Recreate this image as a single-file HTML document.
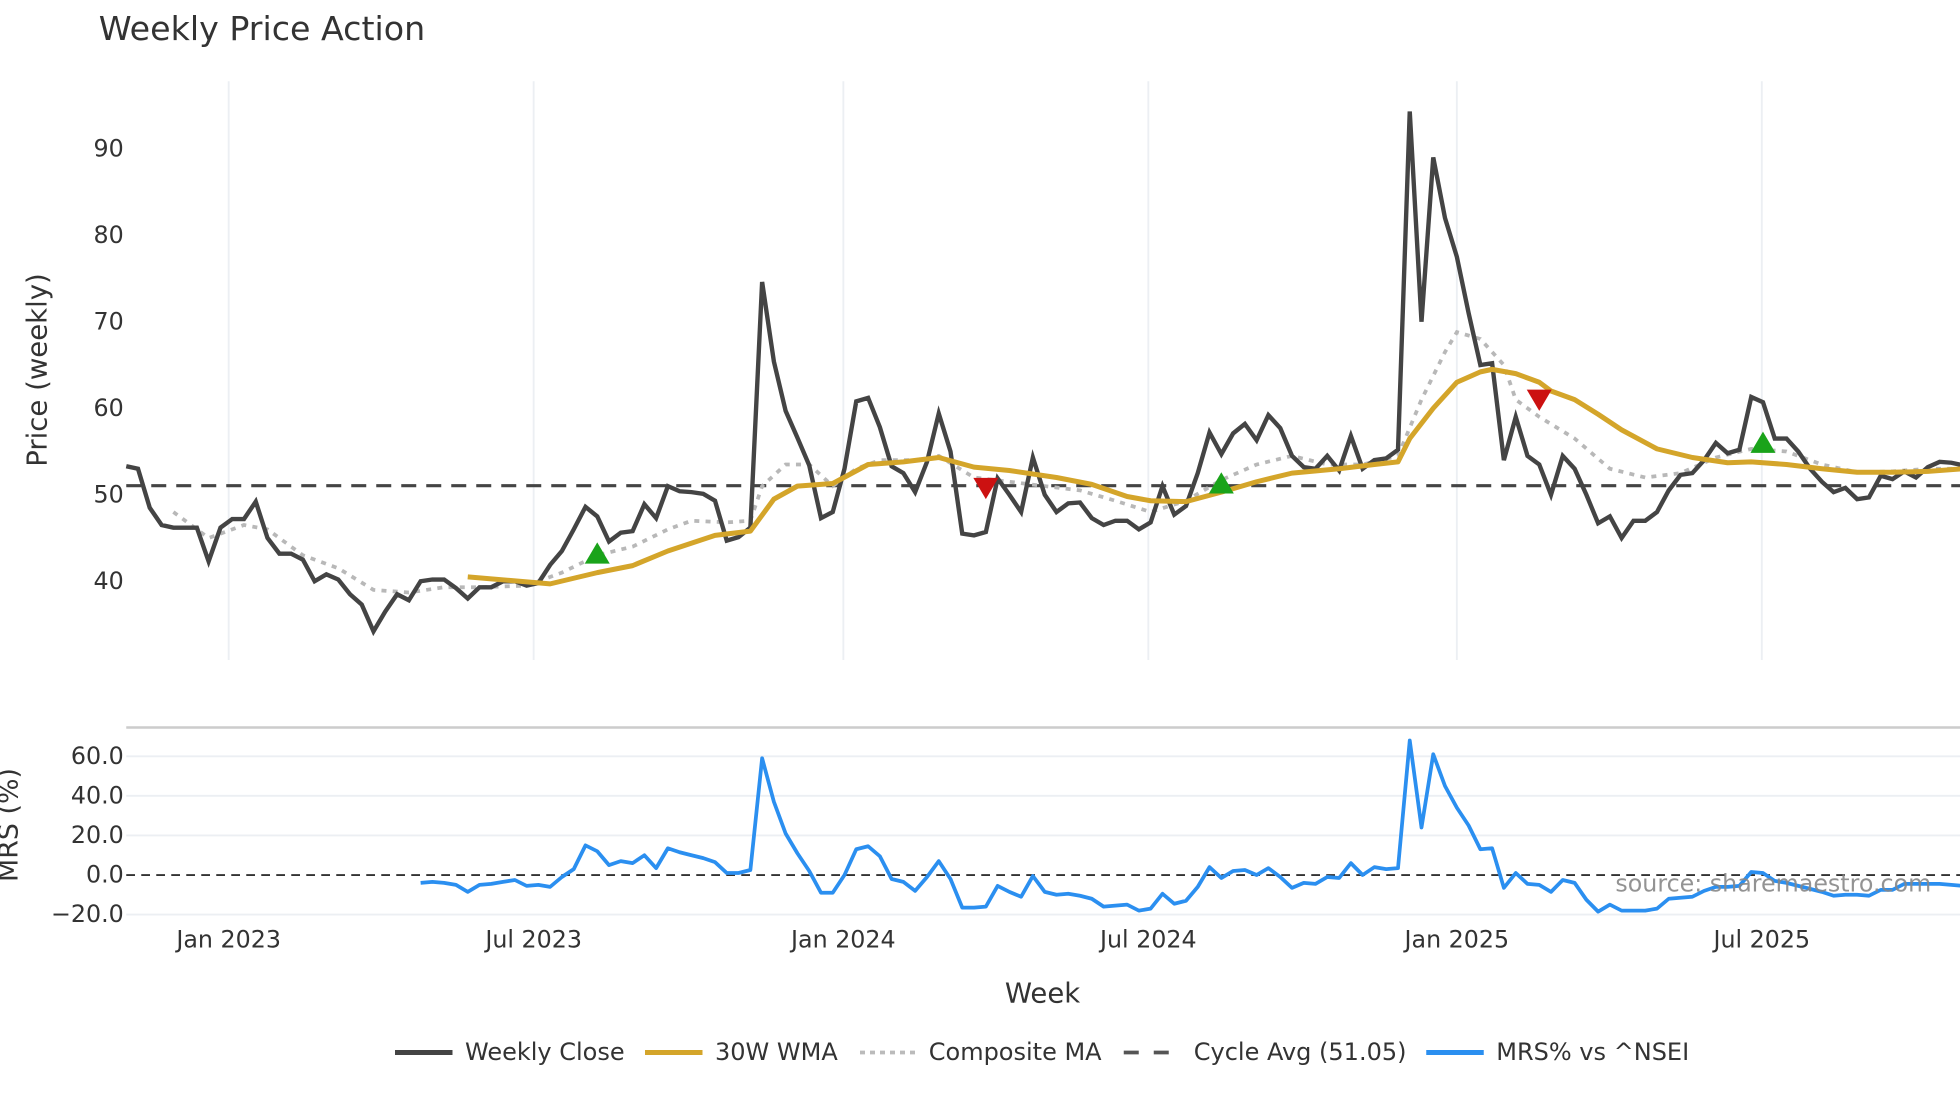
<!DOCTYPE html>
<html><head><meta charset="utf-8">
<style>
html,body{margin:0;padding:0;background:#fff;}
svg{display:block;font-family:"DejaVu Sans","Liberation Sans",sans-serif;}
</style></head>
<body>
<svg id="chart" width="1960" height="1102" viewBox="0 0 1568 881.6" xmlns="http://www.w3.org/2000/svg">
<rect x="0" y="0" width="1568" height="882" fill="#fff"/>
<text x="79" y="32" font-size="26.6" fill="#333">Weekly Price Action</text>
<g id="grid"></g>
<g id="price"></g>
<g id="mrs"></g>
<g id="axes"></g>
<text x="37" y="296" font-size="22" fill="#333" text-anchor="middle" transform="rotate(-90 37 296)">Price (weekly)</text>
<text x="14" y="660" font-size="21.5" fill="#333" text-anchor="middle" transform="rotate(-90 14 660)">MRS (%)</text>
<text x="834" y="802" font-size="22" fill="#333" text-anchor="middle">Week</text>
<text x="1545" y="713" font-size="19" fill="#888" text-anchor="end" opacity="0.9">source: sharemaestro.com</text>
<g font-size="19.2" fill="#333">
  <g><line x1="316" y1="842" x2="362" y2="842" stroke="#444" stroke-width="4"/><text x="372" y="848">Weekly Close</text></g>
  <g><line x1="516" y1="842" x2="562" y2="842" stroke="#d4a52a" stroke-width="4"/><text x="572" y="848">30W WMA</text></g>
  <g><line x1="688" y1="842" x2="734" y2="842" stroke="#bbb" stroke-width="3" stroke-dasharray="4,4"/><text x="743" y="848">Composite MA</text></g>
  <g><line x1="899" y1="842" x2="945" y2="842" stroke="#555" stroke-width="3" stroke-dasharray="12,12"/><text x="955" y="848">Cycle Avg (51.05)</text></g>
  <g><line x1="1141" y1="842" x2="1187" y2="842" stroke="#2b8ff0" stroke-width="4"/><text x="1197" y="848">MRS% vs ^NSEI</text></g>
</g>
</svg>
<script>
const closeVals=[53.3,53,48.5,46.5,46.2,46.2,46.2,42.3,46.2,47.2,47.2,49.2,45,43.2,43.2,42.5,40,40.8,40.2,38.5,37.3,34.2,36.5,38.5,37.8,40,40.2,40.2,39.2,38,39.3,39.3,40,40,39.5,39.8,41.9,43.5,46,48.6,47.5,44.6,45.6,45.8,48.9,47.3,51,50.4,50.3,50.1,49.3,44.7,45.1,46.2,74.6,65.4,59.7,56.6,53.4,47.3,48,53,60.8,61.2,57.8,53.3,52.5,50.3,53.8,59.4,55,45.5,45.3,45.7,51.9,50,48,54.3,50,48,49,49.1,47.3,46.5,47,47,46,46.8,51,47.7,48.7,52.5,57.2,54.7,57.1,58.2,56.3,59.2,57.7,54.5,53.2,53,54.5,52.8,56.8,53,54,54.2,55.2,94.3,70,89,82,77.5,71,65,65.2,54,59,54.5,53.5,50,54.5,53,50,46.7,47.5,45,47,47,48,50.5,52.3,52.5,54,56,54.8,55.2,61.3,60.7,56.5,56.5,55,53,51.5,50.3,50.8,49.5,49.7,52.2,51.8,52.7,52,53.2,53.8,53.7,53.4];
const wmaIdx=[29,36,40,43,46,50,53,55,57,60,63,66,69,72,75,79,82,85,87,90,93,96,99,103,106,108,109,111,113,115,116,118,120,121,123,125,127,130,133,136,138,141,144,147,150,153,156];
const wmaVals=[40.5,39.7,41,41.8,43.5,45.3,45.8,49.5,51,51.3,53.5,53.8,54.3,53.2,52.8,52,51.2,49.8,49.3,49.2,50.3,51.5,52.5,53,53.5,53.8,56.5,60,63,64.2,64.5,64,63,62,61,59.3,57.5,55.3,54.3,53.7,53.8,53.5,53,52.6,52.6,52.7,53];
const compIdx=[4,7,10,12,15,18,21,24,27,30,34,37,40,43,46,48,51,53,54,56,58,60,62,64,67,69,72,75,78,81,84,87,90,93,96,99,102,105,108,110,112,113,115,117,118,120,123,126,129,132,135,138,141,144,147,150,153,156];
const compVals=[48,45,46.5,46,43,41.5,39,38.7,39.3,39.3,39.5,41,43,44,46,47,46.8,47,51,53.5,53.5,51,53,54,54,54.5,52,51.5,51,50.5,49.3,48,49.3,51.7,53.5,54.5,53.5,53.5,54.5,61,66.5,68.8,68,65,61,59,56.5,53,52,52.5,54.3,55.3,55,53.5,52.6,52.7,53,53];
const mrsStart=25;
const mrsVals=[-4,-3.5,-4,-5,-8.5,-5,-4.5,-3.5,-2.5,-5.5,-5,-6,-1,3,15,12,5,7,6,10,3.5,13.5,11.5,10,8.5,6.5,1,1,2.5,59,37,21,11,2,-9,-9,0,13,14.5,9.5,-2,-3.5,-8,-1,7,-2,-16.5,-16.5,-16,-5.5,-8.5,-11,-0.5,-8.5,-10,-9.5,-10.5,-12,-16,-15.5,-15,-18,-17,-9.5,-14.5,-13,-6,4,-1.5,2,2.5,0,3.5,-1,-6.5,-4,-4.5,-1,-1.5,6,0,4,3,3.5,68,24,61,45,34,25,13,13.5,-6.5,1,-4.5,-5,-8.5,-2.5,-4,-12.5,-18.5,-15,-18,-18,-18,-17,-12,-11.5,-11,-8,-6,-6,-5.5,1.5,1,-3,-4,-5.5,-7,-8.5,-10.5,-10,-10,-10.5,-7.5,-7.5,-4.5,-4.5,-4.5,-4.5,-5,-5.5];
const buyIdx=[40,93,139], buyVals=[43.2,51.3,56];
const sellIdx=[73,120], sellVals=[50.8,61];
const cycleAvg=51.05;
const priceTicks=[40,50,60,70,80,90];
const mrsTicks=[-20,0,20,40,60];
const xTickLabels=["Jan 2023","Jul 2023","Jan 2024","Jul 2024","Jan 2025","Jul 2025"];
const xTickWeeks=[8.7,34.6,60.9,86.8,113,138.9];

const NS="http://www.w3.org/2000/svg";
const X=i=>101+i*9.42;
const Yp=v=>465-(v-40)*6.92;
const Ym=v=>700-v*1.583;
function mk(tag,attrs,parent){const e=document.createElementNS(NS,tag);for(const k in attrs)e.setAttribute(k,attrs[k]);parent.appendChild(e);return e;}
const grid=document.getElementById('grid'),price=document.getElementById('price'),mrs=document.getElementById('mrs'),axes=document.getElementById('axes');

xTickWeeks.forEach((w,k)=>{
  const g=mk('line',{x1:X(w),x2:X(w),y1:65,y2:528,stroke:'#eceff3','stroke-width':1.5},grid);
  
  
  const t=mk('text',{x:X(w),y:758,'font-size':19,fill:'#333','text-anchor':'middle'},axes);
  t.textContent=xTickLabels[k];
  
  
});
priceTicks.forEach(v=>{
  const t=mk('text',{x:99,y:Yp(v)+6,'font-size':19,fill:'#333','text-anchor':'end'},axes);
  t.textContent=v;
  
  
});
const sep=mk('line',{x1:101,x2:1568,y1:582,y2:582,stroke:'#ccc','stroke-width':2},grid);


mrsTicks.forEach(v=>{
  if(v!==0){const l=mk('line',{x1:101,x2:1568,y1:Ym(v),y2:Ym(v),stroke:'#eceff3','stroke-width':1.5},grid);
  
  }
  const t=mk('text',{x:99,y:Ym(v)+6,'font-size':19,fill:'#333','text-anchor':'end'},axes);
  t.textContent=(v<0?'\u2212'+Math.abs(v).toFixed(1):v.toFixed(1));
  
  
});
const z=mk('line',{x1:101,x2:1568,y1:Ym(0),y2:Ym(0),stroke:'#333','stroke-width':1.5,'stroke-dasharray':'7,5'},mrs);



const ca=mk('line',{x1:101,x2:1568,y1:Yp(cycleAvg),y2:Yp(cycleAvg),stroke:'#444','stroke-width':2.5,'stroke-dasharray':'12,8'},price);



function pathFrom(idx,vals,yf){return vals.map((v,k)=>(k?'L':'M')+X(idx[k]).toFixed(1)+' '+yf(v).toFixed(1)).join(' ');}
const comp=mk('path',{d:pathFrom(compIdx,compVals,Yp),fill:'none',stroke:'#b8b8b8','stroke-width':3,'stroke-dasharray':'4,5'},price);


const cl=mk('path',{d:pathFrom(closeVals.map((_,i)=>i),closeVals,Yp),fill:'none',stroke:'#444','stroke-width':3.5,'stroke-linejoin':'miter'},price);


const wm=mk('path',{d:pathFrom(wmaIdx,wmaVals,Yp),fill:'none',stroke:'#d4a52a','stroke-width':4,'stroke-linejoin':'round'},price);


buyIdx.forEach((w,k)=>{const x=X(w),y=Yp(buyVals[k]);
  const p=mk('polygon',{points:`${x-10},${y+8} ${x+10},${y+8} ${x},${y-9}`,fill:'#1aa31a'},price);
  
  });
sellIdx.forEach((w,k)=>{const x=X(w),y=Yp(sellVals[k]);
  const p=mk('polygon',{points:`${x-10},${y-8} ${x+10},${y-8} ${x},${y+9}`,fill:'#cc1111'},price);
  
  });
const mp=mk('path',{d:pathFrom(mrsVals.map((_,i)=>i+mrsStart),mrsVals,Ym),fill:'none',stroke:'#2b8ff0','stroke-width':3,'stroke-linejoin':'round'},mrs);


</script>
</body></html>
